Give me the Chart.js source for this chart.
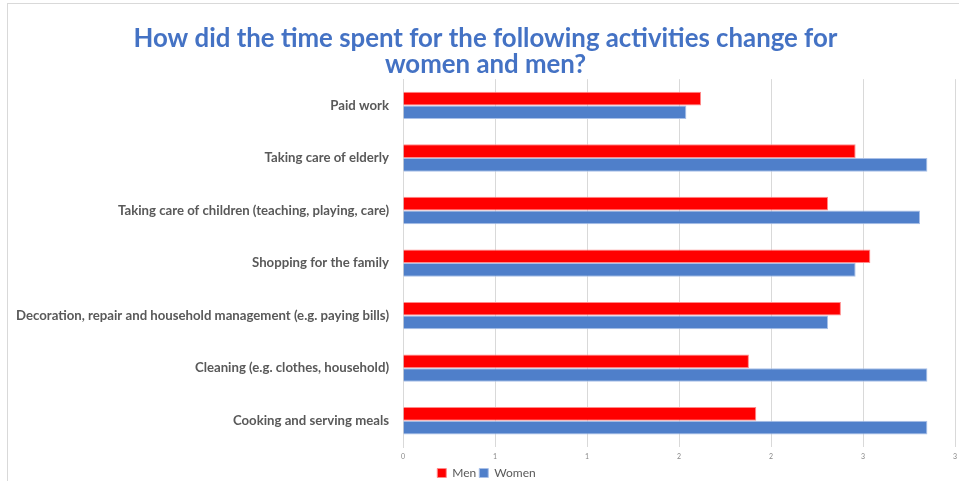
<!DOCTYPE html>
<html>
<head>
<meta charset="utf-8">
<title>Time spent on activities – women and men</title>
<script src="https://cdn.jsdelivr.net/npm/chart.js@4.4.1/dist/chart.umd.min.js"></script>
<style>
  html, body { margin: 0; padding: 0; background: #ffffff; }
  #wrap { position: relative; width: 959px; height: 481px; }
</style>
</head>
<body>
<div id="wrap"><canvas id="chart" width="959" height="481"></canvas></div>
<script>
// Activities, listed top to bottom
const categories = [
  'Paid work',
  'Taking care of elderly',
  'Taking care of children (teaching, playing, care)',
  'Shopping for the family',
  'Decoration, repair and household management (e.g. paying bills)',
  'Cleaning (e.g. clothes, household)',
  'Cooking and serving meals'
];
const menValues   = [1.62, 2.46, 2.31, 2.54, 2.38, 1.88, 1.92];
const womenValues = [1.54, 2.85, 2.81, 2.46, 2.31, 2.85, 2.85];
const seriesNames = ['Men', 'Women'];
const titleLines = [
  'How did the time spent for the following activities change for',
  'women and men?'
];

// thin frame around the chart area
const framePlugin = {
  id: 'frame',
  beforeDraw(chart) {
    const ctx = chart.ctx;
    ctx.save();
    ctx.strokeStyle = '#d9d9d9';
    ctx.lineWidth = 1;
    ctx.strokeRect(7.5, 3.5, 1000, 1000);
    ctx.restore();
  }
};

// move the title and legend a little right of the canvas centre
const blockShift = {
  id: 'blockShift',
  afterLayout(chart) {
    if (chart.titleBlock) {
      chart.titleBlock.left += 8;
      chart.titleBlock.right += 8;
    }
    if (chart.legend) {
      chart.legend.left += 9;
      chart.legend.right += 9;
    }
  }
};

new Chart(document.getElementById('chart'), {
  type: 'bar',
  data: {
    labels: categories,
    datasets: [
      {
        label: seriesNames[0],
        data: menValues,
        backgroundColor: '#ff0000',
        borderColor: '#ff8a8a',
        borderWidth: 1,
        borderSkipped: 'start'
      },
      {
        label: seriesNames[1],
        data: womenValues,
        backgroundColor: '#4f7fca',
        borderColor: '#a9c0e8',
        borderWidth: 1,
        borderSkipped: 'start'
      }
    ]
  },
  options: {
    indexAxis: 'y',
    responsive: false,
    animation: false,
    layout: { padding: { left: 0, right: 4, top: 0, bottom: -8 } },
    datasets: {
      bar: { categoryPercentage: 0.52, barPercentage: 1.0 }
    },
    scales: {
      x: {
        min: 0,
        max: 3,
        ticks: {
          stepSize: 0.5,
          color: '#888888',
          font: { family: 'Lato', size: 7 },
          padding: 6,
          callback: (v) => String(Math.round(v))
        },
        grid: { color: '#d9d9d9', drawTicks: false },
        border: { display: false },
        afterFit(scale) {
          scale.height = 17;
          scale.paddingLeft = 0;
          scale.paddingRight = 0;
        }
      },
      y: {
        ticks: {
          color: '#595959',
          font: { family: 'Lato', size: 13.2, weight: 'bold' },
          padding: 14,
          autoSkip: false
        },
        grid: { display: false, drawTicks: false },
        border: { display: true, color: '#d9d9d9' },
        afterFit(scale) { scale.width = 403; }
      }
    },
    plugins: {
      title: {
        display: true,
        text: titleLines,
        color: '#4472c4',
        font: { family: 'Lato', size: 25.8, weight: 'bold', lineHeight: 1.03 },
        padding: { top: 25, bottom: 1 }
      },
      legend: {
        position: 'bottom',
        labels: {
          color: '#595959',
          font: { family: 'Lato', size: 12 },
          boxWidth: 9,
          boxHeight: 9,
          padding: 3
        }
      },
      tooltip: { enabled: false }
    }
  },
  plugins: [framePlugin, blockShift]
});
</script>
</body>
</html>
